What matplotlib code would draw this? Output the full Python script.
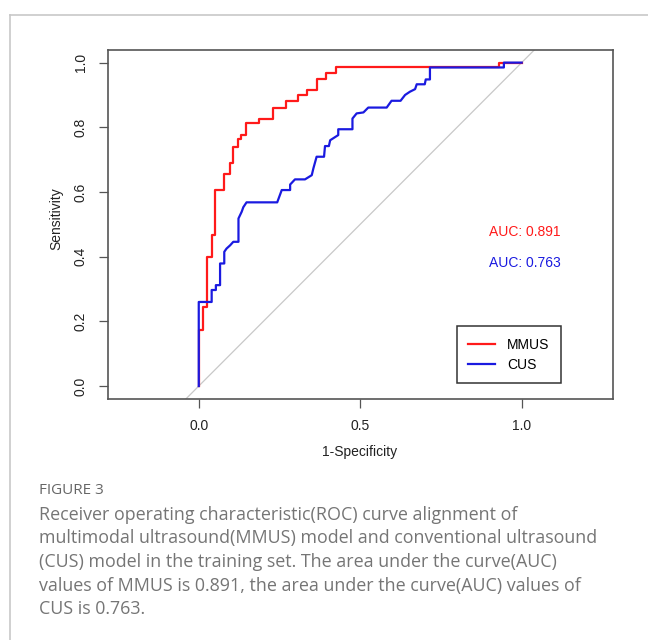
import numpy as np
import matplotlib
matplotlib.use("Agg")
import matplotlib.pyplot as plt
from matplotlib.lines import Line2D

# ROC corners (1-specificity, sensitivity)
mmus_fpr = [0, 0, 0.012, 0.012, 0.025, 0.025, 0.040, 0.040, 0.050, 0.050, 0.079, 0.079,
            0.097, 0.097, 0.107, 0.107, 0.123, 0.123, 0.130, 0.130, 0.145, 0.145, 0.188, 0.188,
            0.229, 0.229, 0.270, 0.270, 0.308, 0.308, 0.336, 0.336, 0.365, 0.365, 0.393, 0.393,
            0.425, 0.425, 0.931, 0.931, 1.0]
mmus_tpr = [0, 0.173, 0.173, 0.243, 0.243, 0.400, 0.400, 0.467, 0.467, 0.606, 0.606, 0.655,
            0.655, 0.690, 0.690, 0.740, 0.740, 0.763, 0.763, 0.775, 0.775, 0.812, 0.812, 0.827,
            0.827, 0.861, 0.861, 0.881, 0.881, 0.900, 0.900, 0.915, 0.915, 0.948, 0.948, 0.967,
            0.967, 0.985, 0.985, 1.0, 1.0]

cus_fpr = [0, 0, 0.040, 0.040, 0.053, 0.053, 0.066, 0.066, 0.079, 0.079, 0.086, 0.097, 0.107,
           0.123, 0.123, 0.133, 0.138, 0.148, 0.243, 0.257, 0.283, 0.283, 0.298, 0.329, 0.350,
           0.355, 0.365, 0.388, 0.391, 0.403, 0.407, 0.432, 0.432, 0.476, 0.476, 0.489, 0.510,
           0.525, 0.582, 0.597, 0.625, 0.639, 0.654, 0.670, 0.675, 0.700, 0.703, 0.716, 0.716,
           0.945, 0.945, 1.0]
cus_tpr = [0, 0.260, 0.260, 0.297, 0.297, 0.312, 0.312, 0.379, 0.379, 0.415, 0.425, 0.435, 0.446,
           0.446, 0.518, 0.539, 0.553, 0.568, 0.568, 0.606, 0.606, 0.623, 0.639, 0.639, 0.652,
           0.673, 0.709, 0.709, 0.742, 0.742, 0.760, 0.776, 0.794, 0.794, 0.827, 0.843, 0.846,
           0.861, 0.861, 0.882, 0.882, 0.900, 0.910, 0.918, 0.933, 0.933, 0.948, 0.948, 0.985,
           0.985, 1.0, 1.0]

auc_labels = ["AUC: 0.891", "AUC: 0.763"]
auc_y = [0.477, 0.379]
series_names = ["MMUS", "CUS"]
series_colors = ["#ff1a1a", "#1a1ae0"]

caption_title = "FIGURE 3"
caption_lines = [
    "Receiver operating characteristic(ROC) curve alignment of",
    "multimodal ultrasound(MMUS) model and conventional ultrasound",
    "(CUS) model in the training set. The area under the curve(AUC)",
    "values of MMUS is 0.891, the area under the curve(AUC) values of",
    "CUS is 0.763.",
]

W, H = 648, 640
fig = plt.figure(figsize=(W / 100, H / 100), dpi=100)
plt.rcParams["font.family"] = ["Liberation Sans", "DejaVu Sans"]

# card border (top + left only)
fig.add_artist(Line2D([9.5 / W, 1], [1 - 14.5 / H] * 2, color="#c8c8c8", lw=1.2))
fig.add_artist(Line2D([9.5 / W] * 2, [0, 1 - 14.5 / H], color="#c8c8c8", lw=1.2))

ax = fig.add_axes([107.7 / W, 1 - 399 / H, 505 / W, 349 / H])
ax.set_xlim(-0.282, 1.282)
ax.set_ylim(-0.040, 1.039)

ax.axline((0, 0), (1, 1), color="#c8c8c8", lw=0.9, zorder=1)
ax.plot(mmus_fpr, mmus_tpr, color=series_colors[0], lw=1.6, label=series_names[0], zorder=2)
ax.plot(cus_fpr, cus_tpr, color=series_colors[1], lw=1.6, label=series_names[1], zorder=3)

for lab, yy, col in zip(auc_labels, auc_y, series_colors):
    ax.text(0.899, yy, lab, color=col, fontsize=10, ha="left", va="center")

leg = ax.legend(loc="lower left", bbox_to_anchor=(0.692, 0.046), borderaxespad=0,
                fancybox=False, edgecolor="#333333", framealpha=1, fontsize=10,
                handlelength=1.9, handletextpad=0.9, borderpad=0.8, labelspacing=0.45)
leg.get_frame().set_linewidth(1.1)

for s in ax.spines.values():
    s.set_color("#555555")
    s.set_linewidth(1.2)

ax.set_xticks([0, 0.5, 1.0])
ax.set_xticklabels(["0.0", "0.5", "1.0"])
ax.set_yticks([0, 0.2, 0.4, 0.6, 0.8, 1.0])
ax.set_yticklabels(["0.0", "0.2", "0.4", "0.6", "0.8", "1.0"])
ax.tick_params(length=6.5, width=0.9, color="#555555", labelsize=10, labelcolor="#222222")
ax.tick_params(axis="x", pad=8)
ax.tick_params(axis="y", pad=8, labelrotation=90)
for t in ax.get_yticklabels():
    t.set_va("center")

fig.text(360 / W, 1 - 451.7 / H, "1-Specificity", fontsize=10, color="#222222",
         ha="center", va="center")
fig.text(56.7 / W, 1 - 219 / H, "Sensitivity", fontsize=10, color="#222222",
         ha="center", va="center", rotation=90)

# caption
cap_font = ["Open Sans", "DejaVu Sans"]
fig.text(39 / W, 1 - 490 / H, caption_title, fontsize=11, color="#666666",
         family=cap_font, ha="left", va="center")
for i, line in enumerate(caption_lines):
    fig.text(39 / W, 1 - (515 + 23.5 * i) / H, line, fontsize=12.9, color="#757575",
             family=cap_font, ha="left", va="center")

fig.savefig("out.png", dpi=100)
